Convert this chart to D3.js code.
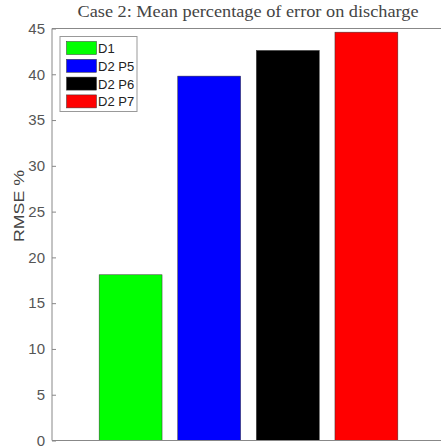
<!DOCTYPE html>
<html><head><meta charset="utf-8">
<script src="https://cdn.jsdelivr.net/npm/d3@7/dist/d3.min.js"></script>
<style>body{margin:0;background:#fff;}svg{display:block;}</style>
</head><body>
<script>
const categories = ["D1", "D2 P5", "D2 P6", "D2 P7"];
const values = [18.1, 39.8, 42.6, 44.6];
const colors = ["#00ff00", "#0000ff", "#000000", "#ff0000"];
const yTicks = [0, 5, 10, 15, 20, 25, 30, 35, 40, 45];
const title = "Case 2: Mean percentage of error on discharge";
const yLabel = "RMSE %";

(function () {
const W = 441, H = 448;
const svg = d3.select("body").append("svg").attr("width", W).attr("height", H);
const mLeft = 52, mRight = 445, mTop = 28.5, mBottom = 440.5;

const x = d3.scaleLinear().domain([0, 5]).range([mLeft, mRight]);
const y = d3.scaleLinear().domain([0, 45]).range([mBottom, mTop]);

// bars
svg.selectAll("rect.bar").data(values).enter().append("rect")
  .attr("class", "bar")
  .attr("x", (d, i) => x(i + 1 - 0.4))
  .attr("width", (d, i) => x(i + 1.4) - x(i + 0.6))
  .attr("y", d => y(d))
  .attr("height", d => y(0) - y(d))
  .attr("fill", (d, i) => colors[i])
  .attr("stroke", "#333").attr("stroke-width", 0.5);

// axes box
const axColor = "#888";
svg.append("line").attr("x1", mLeft).attr("x2", mLeft).attr("y1", mTop).attr("y2", mBottom).attr("stroke", axColor);
svg.append("line").attr("x1", mLeft).attr("x2", mRight).attr("y1", mBottom).attr("y2", mBottom).attr("stroke", axColor);
svg.append("line").attr("x1", mLeft).attr("x2", mRight).attr("y1", mTop).attr("y2", mTop).attr("stroke", axColor);

// y axis ticks (inward)
const yAxis = d3.axisLeft(y).tickValues(yTicks).tickSize(-4).tickPadding(7);
const g = svg.append("g").attr("transform", `translate(${mLeft},0)`).call(yAxis);
g.select(".domain").remove();
g.selectAll(".tick line").attr("stroke", axColor);
g.selectAll(".tick text").attr("font-family", "Liberation Sans, Arial, sans-serif")
  .attr("font-size", 15).attr("fill", "#555");

// y label
svg.append("text").attr("transform", `translate(24,206) rotate(-90)`)
  .attr("text-anchor", "middle").attr("font-family", "Liberation Sans, Arial, sans-serif")
  .attr("font-size", 15).attr("textLength", 72).attr("lengthAdjust", "spacingAndGlyphs")
  .attr("fill", "#444").text(yLabel);

// title
svg.append("text").attr("x", 248).attr("y", 17).attr("text-anchor", "middle")
  .attr("font-family", "Liberation Serif, Times New Roman, serif")
  .attr("font-size", 16).attr("textLength", 341).attr("lengthAdjust", "spacingAndGlyphs")
  .attr("fill", "#444").text(title);

// legend
const lg = svg.append("g");
lg.append("rect").attr("x", 60).attr("y", 36.5).attr("width", 77).attr("height", 75)
  .attr("fill", "#fff").attr("stroke", "#999").attr("stroke-width", 1);
categories.forEach((c, i) => {
  const cy = 48 + i * 17.8;
  lg.append("rect").attr("x", 66.5).attr("y", cy - 6.5).attr("width", 30).attr("height", 13)
    .attr("fill", colors[i]).attr("stroke", "#333").attr("stroke-width", 0.5);
  lg.append("text").attr("x", 98).attr("y", cy + 5)
    .attr("font-family", "Liberation Sans, Arial, sans-serif").attr("font-size", 13)
    .attr("fill", "#222").text(c);
});
})();
</script>
</body></html>
